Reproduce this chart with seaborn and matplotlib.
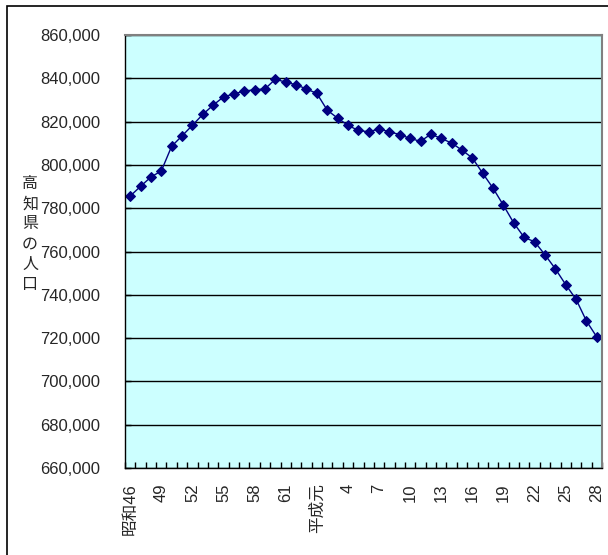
import numpy as np
import pandas as pd
import matplotlib
matplotlib.use("Agg")
import matplotlib.pyplot as plt
import seaborn as sns
from matplotlib.ticker import FuncFormatter, FixedLocator
from matplotlib.patches import Rectangle

# 昭和46年(1971) - 平成28年(2016)
years = list(range(1971, 2017))
population = [
    785600, 790100, 794400, 797200, 808600, 813400, 818300, 823300, 827600, 831400,
    832800, 834100, 834700, 835100, 839600, 838200, 837000, 835100, 833000, 825300,
    821600, 818300, 815900, 815300, 816600, 815300, 814000, 812200, 810900, 814200,
    812200, 810100, 806800, 803200, 796100, 789200, 781300, 773100, 766500, 764500,
    758500, 752000, 744700, 737900, 727900, 720500,
]
tick_labels = ["昭和46", "49", "52", "55", "58", "61", "平成元", "4", "7",
               "10", "13", "16", "19", "22", "25", "28"]

df = pd.DataFrame({"idx": range(len(years)), "pop": population})

sns.set_theme(style="white")
plt.rcParams['font.family'] = ['Liberation Sans', 'Noto Sans CJK JP', 'DejaVu Sans']

fig = plt.figure(figsize=(6.08, 5.55), dpi=100)
ax = fig.add_axes([125/608, 1-468/555, (602-125)/608, (468-35)/555])
ax.set_facecolor("#CCFFFF")

sns.lineplot(data=df, x="idx", y="pop", ax=ax, color="#000080", marker="D",
             markersize=5.5, markeredgecolor="#000080", linewidth=1)

ax.set_xlim(-0.5, len(years) - 0.5)
ax.set_ylim(660000, 860000)
ax.set_yticks(np.arange(660000, 860001, 20000))
ax.yaxis.set_major_formatter(FuncFormatter(lambda v, p: f"{int(v):,}"))
ax.yaxis.grid(True, color="black", linewidth=1)
ax.xaxis.grid(False)

ax.xaxis.set_major_locator(FixedLocator(range(0, len(years), 3)))
ax.set_xticklabels(tick_labels, rotation=90)
ax.xaxis.set_minor_locator(FixedLocator(np.arange(-0.5, len(years), 1)))
ax.tick_params(axis="x", which="major", length=0, labelsize=12, pad=11)
ax.tick_params(axis="x", which="minor", direction="in", length=4, width=1, color="black", bottom=True)
ax.tick_params(axis="y", which="major", direction="in", length=4, width=1, color="black",
               left=True, labelsize=12, pad=18)

ax.set_xlabel("")
ax.set_ylabel("")
for side in ["top", "right"]:
    ax.spines[side].set_color("#808080")
    ax.spines[side].set_linewidth(1.5)
for side in ["left", "bottom"]:
    ax.spines[side].set_color("black")
    ax.spines[side].set_linewidth(1)

fig.text(30/608, 1-234/555, "高\n知\n県\nの\n人\n口", ha="center", va="center",
         fontsize=11.5, linespacing=1.25, family=['Noto Sans CJK JP'])

fig.patches.append(Rectangle((7/608, -0.1), 2, 1 - 6/555 + 0.1, transform=fig.transFigure,
                             fill=False, edgecolor="black", linewidth=1.2))

fig.savefig("out.png", dpi=100)
